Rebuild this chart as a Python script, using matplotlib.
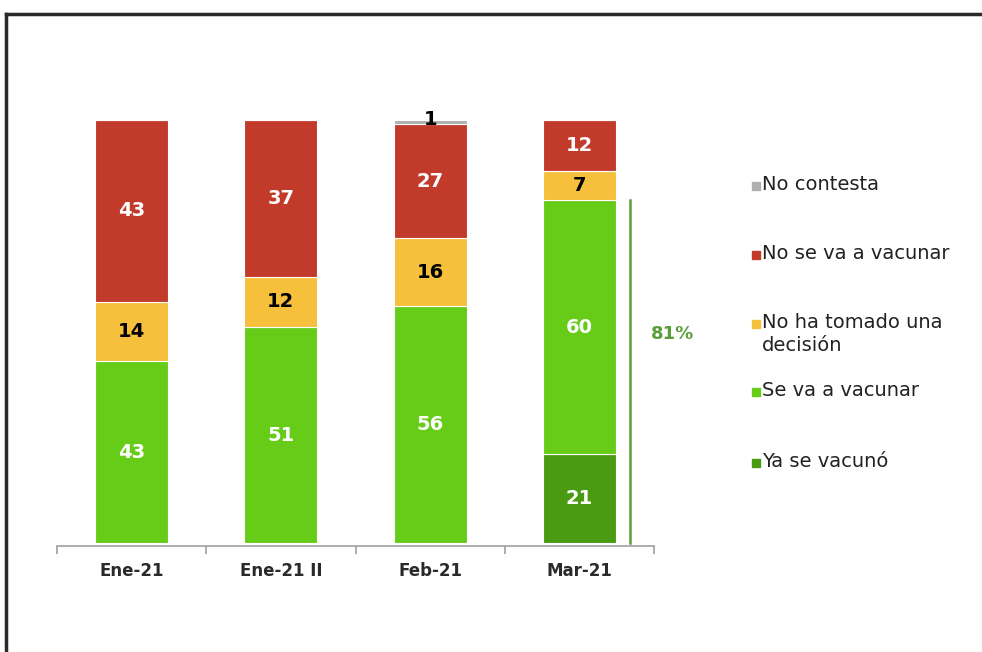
import matplotlib.pyplot as plt
from matplotlib.patches import Rectangle
from matplotlib.lines import Line2D
import numpy as np

categories = ['Ene-21', 'Ene-21 II', 'Feb-21', 'Mar-21']
ya_se_vacuno = [0, 0, 0, 21]
se_va_a_vacunar = [43, 51, 56, 60]
no_ha_decidido = [14, 12, 16, 7]
no_se_va_a_vacunar = [43, 37, 27, 12]
no_contesta = [0, 0, 1, 0]

series = [
    ('Ya se vacunó', ya_se_vacuno, '#4a9a12', 'white'),
    ('Se va a vacunar', se_va_a_vacunar, '#66cc18', 'white'),
    ('No ha tomado una\ndecisión', no_ha_decidido, '#f6bf3c', 'black'),
    ('No se va a vacunar', no_se_va_a_vacunar, '#c23a2a', 'white'),
    ('No contesta', no_contesta, '#b0b0b0', 'black'),
]

plt.rcParams['font.family'] = ['DejaVu Sans']

fig = plt.figure(figsize=(9.82, 6.52), dpi=100)
ax = fig.add_axes([57/982, 1-543/652, 597/982, 423/652])

x = np.arange(len(categories))
bottom = np.zeros(len(categories))
for name, vals, color, tcolor in series:
    vals = np.array(vals, dtype=float)
    ax.bar(x, vals, 0.49, bottom=bottom, color=color, edgecolor='white', linewidth=0.8)
    for i, v in enumerate(vals):
        if v <= 0:
            continue
        # tiny segment -> label on top of the bar
        ypos = bottom[i] + v if v < 3 else bottom[i] + v/2
        ax.text(x[i], ypos, '%d' % v, ha='center', va='center',
                color=tcolor, fontsize=14, fontweight='bold')
    bottom += vals

ax.set_xlim(-0.5, 3.5)
ax.set_ylim(0, 100)
ax.set_yticks([])
for s in ['top', 'right', 'left']:
    ax.spines[s].set_visible(False)
ax.spines['bottom'].set_color('#a0a0a0')
ax.spines['bottom'].set_linewidth(1.2)
ax.spines['bottom'].set_position(('outward', 2))
ax.set_xticks(np.arange(-0.5, 4, 1))
ax.set_xticklabels([])
ax.set_xticks(x, minor=True)
ax.set_xticklabels(categories, minor=True, fontsize=12, fontweight='bold', color='#2a2a2a')
ax.tick_params(axis='x', which='major', length=6, color='#a0a0a0', width=1.2)
ax.tick_params(axis='x', which='minor', length=0, pad=12)

# 81% bracket for Mar-21
total_vac = ya_se_vacuno[3] + se_va_a_vacunar[3]
ax.plot([3.34, 3.34], [0, total_vac], color='#5a9e3a', lw=1.8, clip_on=False)
fig.text(672/982, 1-334/652, '%d%%' % total_vac, color='#5a9e3a', fontsize=13,
         fontweight='bold', ha='center', va='center')

# legend, drawn by hand (first line of each label next to the square)
leg_y = [186, 255, 324, 392, 463]
leg_items = [series[4], series[3], series[2], series[1], series[0]]
for (name, vals, color, tcolor), yy in zip(leg_items, leg_y):
    fig.patches.append(Rectangle((752/982, 1-(yy+4)/652), 8/982, 8/652,
                                 transform=fig.transFigure, color=color))
    fig.text(762/982, 1-(yy-11)/652, name, fontsize=14, color='#222222',
             ha='left', va='top', linespacing=1.25)

# frame
fig.add_artist(Line2D([6/982, 1], [1-14/652, 1-14/652], color='#2a2a2a', lw=2.5,
                      transform=fig.transFigure))
fig.add_artist(Line2D([6/982, 6/982], [0, 1-14/652], color='#2a2a2a', lw=2.5,
                      transform=fig.transFigure))

fig.savefig('out.png', dpi=100)
